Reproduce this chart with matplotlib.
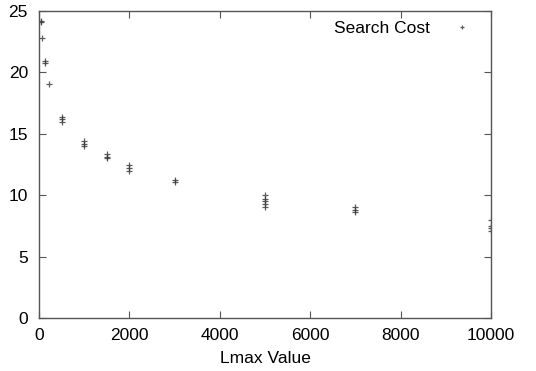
import numpy as np
import matplotlib
matplotlib.use("Agg")
import matplotlib.pyplot as plt

# Lmax value -> repeated search cost measurements
lmax = [40, 40, 70, 125, 125, 220,
        500, 500, 500,
        1000, 1000, 1000,
        1500, 1500, 1500,
        2000, 2000, 2000,
        3000, 3000,
        5000, 5000, 5000, 5000, 5000,
        7000, 7000, 7000,
        10000, 10000, 10000, 10000]
search_cost = [24.2, 24.1, 22.8, 20.9, 20.8, 19.05,
               16.4, 16.2, 16.0,
               14.4, 14.2, 14.0,
               13.35, 13.1, 13.0,
               12.5, 12.2, 12.0,
               11.25, 11.05,
               10.0, 9.7, 9.5, 9.3, 9.05,
               9.0, 8.8, 8.65,
               8.0, 7.5, 7.3, 7.1]

x_ticks = [0, 2000, 4000, 6000, 8000, 10000]
y_ticks = [0, 5, 10, 15, 20, 25]

plt.rcParams['font.family'] = ['Liberation Sans', 'DejaVu Sans']
plt.rcParams['font.size'] = 12.5

fig = plt.figure(figsize=(5.36, 3.71), dpi=100)
ax = fig.add_axes([0.0728, 0.143, 0.8433, 0.827])

ax.plot(lmax, search_cost, linestyle='none', marker='+', markersize=5,
        markeredgewidth=0.9, color='#333333', alpha=0.8, label='Search Cost')

ax.set_xlim(0, 10000)
ax.set_ylim(0, 25)
ax.set_xticks(x_ticks)
ax.set_yticks(y_ticks)
ax.set_xlabel('Lmax Value', labelpad=6)

ax.tick_params(direction='in', top=True, right=True, length=5, width=0.8,
               color='#555555')
ax.tick_params(axis='x', pad=7)
ax.tick_params(axis='y', pad=8)
for s in ax.spines.values():
    s.set_color('#555555')
    s.set_linewidth(1.0)

leg = ax.legend(loc='upper right', frameon=False, markerfirst=False,
                handlelength=2.2, borderaxespad=0.15, markerscale=0.6)

fig.savefig('out.png', dpi=100)
